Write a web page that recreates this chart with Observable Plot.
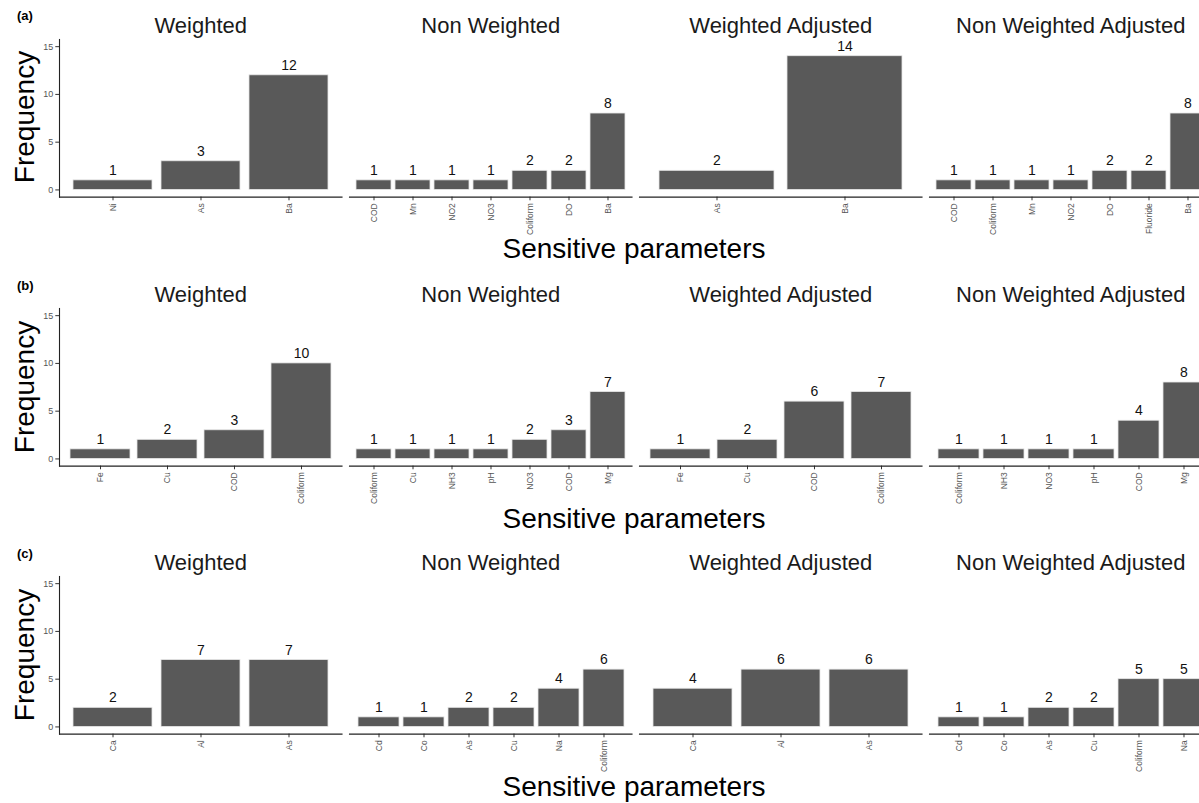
<!DOCTYPE html>
<html>
<head>
<meta charset="utf-8">
<script src="https://cdn.jsdelivr.net/npm/d3@7"></script>
<script src="https://cdn.jsdelivr.net/npm/@observablehq/plot@0.6"></script>
<style>
  html, body { margin: 0; padding: 0; background: #fff; }
  #chart { position: relative; width: 1199px; height: 803px; overflow: hidden; background: #fff;
           font-family: "Liberation Sans", Arial, sans-serif; }
  #chart svg { position: absolute; overflow: visible; }
  .lbl { position: absolute; white-space: nowrap; color: #000; }
  .rowtag { font-weight: bold; font-size: 13px; transform: translateY(-50%); }
  .ytitle { font-size: 28px; transform: translate(-50%, -50%) rotate(-90deg); }
  .xtitle { font-size: 28px; transform: translate(-50%, -50%); }
  #chart g[aria-label="y-axis tick label"], #chart g[aria-label="x-axis tick label"] { fill: #555; }
</style>
</head>
<body>
<div id="chart"></div>
<script>
// ---- data ----
const facetTitles = ["Weighted", "Non Weighted", "Weighted Adjusted", "Non Weighted Adjusted"];
const rowTags = ["(a)", "(b)", "(c)"];
const yTitle = "Frequency";
const xTitle = "Sensitive parameters";
const yTicks = [0, 5, 10, 15];

// row (a)
const aWeightedCats = ["Ni", "As", "Ba"];
const aWeightedVals = [1, 3, 12];
const aNonWeightedCats = ["COD", "Mn", "NO2", "NO3", "Coliform", "DO", "Ba"];
const aNonWeightedVals = [1, 1, 1, 1, 2, 2, 8];
const aWeightedAdjCats = ["As", "Ba"];
const aWeightedAdjVals = [2, 14];
const aNonWeightedAdjCats = ["COD", "Coliform", "Mn", "NO2", "DO", "Fluoride", "Ba"];
const aNonWeightedAdjVals = [1, 1, 1, 1, 2, 2, 8];

// row (b)
const bWeightedCats = ["Fe", "Cu", "COD", "Coliform"];
const bWeightedVals = [1, 2, 3, 10];
const bNonWeightedCats = ["Coliform", "Cu", "NH3", "pH", "NO3", "COD", "Mg"];
const bNonWeightedVals = [1, 1, 1, 1, 2, 3, 7];
const bWeightedAdjCats = ["Fe", "Cu", "COD", "Coliform"];
const bWeightedAdjVals = [1, 2, 6, 7];
const bNonWeightedAdjCats = ["Coliform", "NH3", "NO3", "pH", "COD", "Mg"];
const bNonWeightedAdjVals = [1, 1, 1, 1, 4, 8];

// row (c)
const cWeightedCats = ["Ca", "Al", "As"];
const cWeightedVals = [2, 7, 7];
const cNonWeightedCats = ["Cd", "Co", "As", "Cu", "Na", "Coliform"];
const cNonWeightedVals = [1, 1, 2, 2, 4, 6];
const cWeightedAdjCats = ["Ca", "Al", "As"];
const cWeightedAdjVals = [4, 6, 6];
const cNonWeightedAdjCats = ["Cd", "Co", "As", "Cu", "Coliform", "Na"];
const cNonWeightedAdjVals = [1, 1, 2, 2, 5, 5];

const rows = [
  [[aWeightedCats, aWeightedVals], [aNonWeightedCats, aNonWeightedVals], [aWeightedAdjCats, aWeightedAdjVals], [aNonWeightedAdjCats, aNonWeightedAdjVals]],
  [[bWeightedCats, bWeightedVals], [bNonWeightedCats, bNonWeightedVals], [bWeightedAdjCats, bWeightedAdjVals], [bNonWeightedAdjCats, bNonWeightedAdjVals]],
  [[cWeightedCats, cWeightedVals], [cNonWeightedCats, cNonWeightedVals], [cWeightedAdjCats, cWeightedAdjVals], [cNonWeightedAdjCats, cNonWeightedAdjVals]]
];

// ---- layout ----
const rowTops = [0, 269.5, 537.5];
const panelLefts = [59.3, 349, 639, 929];
const panelW = 282.5;
const frameTop = 38.9;
const frameH = 157.6;
const mTop = 39, mBottom = 50;
const font = '"Liberation Sans", Arial, sans-serif';

const chart = document.getElementById("chart");

function addLabel(text, cls, left, top) {
  const d = document.createElement("div");
  d.className = "lbl " + cls;
  d.textContent = text;
  d.style.left = left + "px";
  d.style.top = top + "px";
  chart.appendChild(d);
}

rows.forEach((row, r) => {
  const top = rowTops[r];
  addLabel(rowTags[r], "rowtag", 17, top + 15);
  addLabel(yTitle, "ytitle", 25, top + 117);
  addLabel(xTitle, "xtitle", 634, top + 249);

  row.forEach(([cats, vals], p) => {
    const data = cats.map((c, i) => ({cat: c, val: vals[i]}));
    const mL = p === 0 ? 60 : 0;
    const marks = [
      Plot.barY(data, {x: "cat", y: "val", fill: "#595959", stroke: "#e6e6e6", strokeWidth: 0.8}),
      Plot.text(data, {x: "cat", y: "val", text: d => String(d.val), lineAnchor: "middle", dy: -10, fontSize: 14, fill: "#111"}),
      Plot.text([facetTitles[p]], {frameAnchor: "top", lineAnchor: "middle", dy: -14, fontSize: 22, fill: "#1a1a1a", text: d => d}),
      Plot.axisX({tickSize: 3.7, tickPadding: 2.5, tickRotate: -90, fontSize: 8.5, label: null, stroke: "#333"}),
      Plot.frame({anchor: "bottom", stroke: "#222", strokeWidth: 1.1})
    ];
    if (p === 0) {
      marks.push(Plot.axisY({ticks: yTicks, tickSize: 3.7, tickPadding: 2.5, fontSize: 9, label: null, stroke: "#333"}));
      marks.push(Plot.frame({anchor: "left", stroke: "#222", strokeWidth: 1.1}));
    }
    const svg = Plot.plot({
      width: panelW + mL,
      height: mTop + frameH + mBottom,
      marginTop: mTop,
      marginBottom: mBottom,
      marginLeft: mL,
      marginRight: 0,
      style: {background: "transparent", overflow: "visible", maxWidth: "none", fontFamily: font},
      x: {type: "band", domain: cats, paddingInner: 0.1, paddingOuter: 0.15},
      y: {domain: [-0.75, 15.75], axis: p === 0 ? undefined : null},
      marks
    });
    svg.style.left = (panelLefts[p] - mL) + "px";
    svg.style.top = (top + frameTop - mTop) + "px";
    chart.appendChild(svg);
  });
});
</script>
</body>
</html>
